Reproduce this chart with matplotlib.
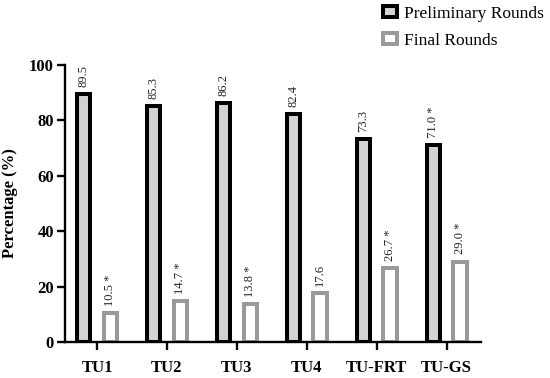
import numpy as np
import matplotlib.pyplot as plt

plt.rcParams['font.family'] = ['Liberation Serif', 'DejaVu Serif']

groups = ['TU1', 'TU2', 'TU3', 'TU4', 'TU-FRT', 'TU-GS']
prelim = [89.5, 85.3, 86.2, 82.4, 73.3, 71.0]
final = [10.5, 14.7, 13.8, 17.6, 26.7, 29.0]
prelim_labels = ['89.5', '85.3', '86.2', '82.4', '73.3', '71.0 *']
final_labels = ['10.5 *', '14.7 *', '13.8 *', '17.6', '26.7 *', '29.0 *']

x = np.arange(len(groups))
w = 0.19
off = 0.19

fig = plt.figure(figsize=(5.5, 3.78), dpi=100)
ax = fig.add_axes([0.118, 0.0952, 0.7565, 0.7328])

ax.bar(x - off, prelim, w, color='#d3d3d3', edgecolor='black',
       linewidth=2.9, label='Preliminary Rounds')
ax.bar(x + off, final, w, color='white', edgecolor='#9a9a9a',
       linewidth=2.9, label='Final Rounds')

# value labels above the bars
for xi, v, t in zip(x - off, prelim, prelim_labels):
    ax.text(xi, v + 2.6, t, rotation=90, ha='center', va='bottom',
            fontsize=9, color='#222222')
for xi, v, t in zip(x + off, final, final_labels):
    ax.text(xi, v + 2.6, t, rotation=90, ha='center', va='bottom',
            fontsize=9, color='#222222')

ax.set_xlim(-0.46, 5.49)
ax.set_ylim(0, 100)
ax.set_yticks([0, 20, 40, 60, 80, 100])
ax.set_xticks(x)
ax.set_xticklabels(groups, fontweight='bold', fontsize=12)
for lab in ax.get_yticklabels():
    lab.set_fontweight('bold')
    lab.set_fontsize(12)
ax.set_ylabel('Percentage (%)', fontweight='bold', fontsize=12, labelpad=8)

ax.spines['top'].set_visible(False)
ax.spines['right'].set_visible(False)
ax.spines['left'].set_linewidth(1.7)
ax.spines['bottom'].set_linewidth(1.7)
ax.tick_params(axis='both', width=1.7, length=6, pad=2)
ax.tick_params(axis='x', pad=7)

fig.legend(loc='upper left', bbox_to_anchor=(0.696, 0.985), frameon=False,
           fontsize=12.5, handlelength=0.8, handleheight=0.6,
           handletextpad=0.4, labelspacing=0.65, borderpad=0,
           borderaxespad=0)

fig.savefig('out.png', dpi=100)
